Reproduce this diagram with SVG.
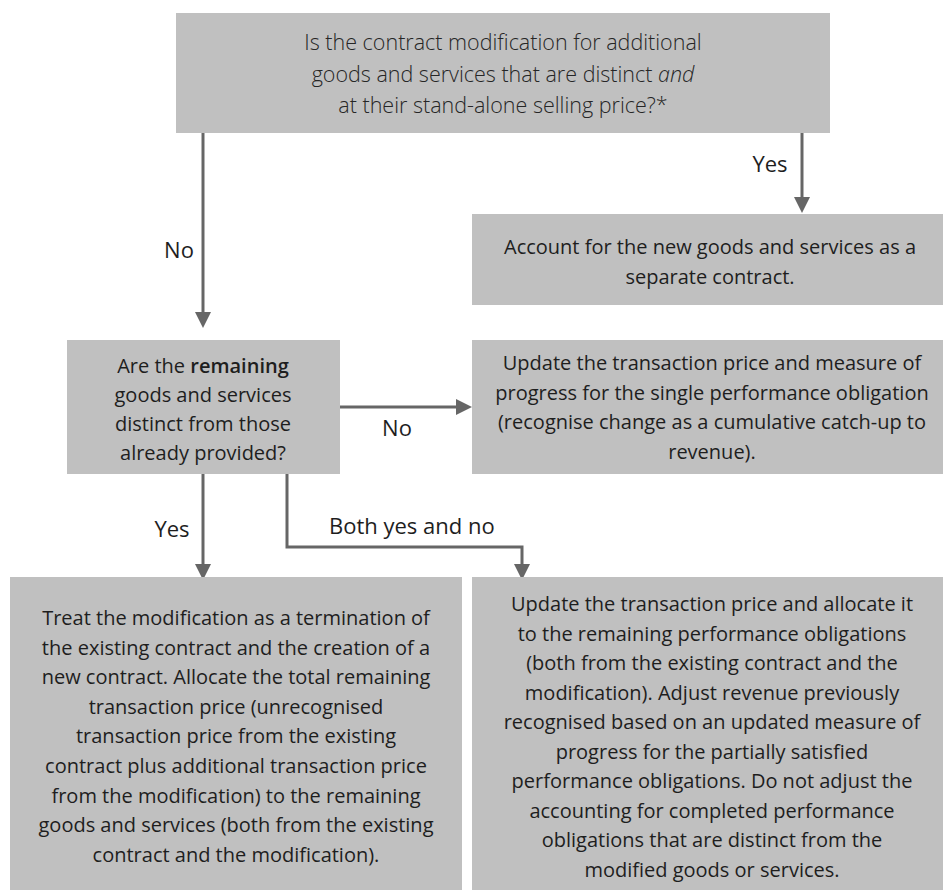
<svg xmlns="http://www.w3.org/2000/svg" width="943" height="890" viewBox="0 0 943 890">
<style>
.box{fill:#c0c0c0}
.t{font-family:"Open Sans","Noto Sans","Liberation Sans",sans-serif;font-size:20px;fill:#1e1e1e;text-anchor:middle}
.top{font-weight:300;font-size:21.5px;fill:#262626}
.lbl{font-family:"Open Sans","Noto Sans","Liberation Sans",sans-serif;font-size:22px;fill:#1e1e1e}
.conn{stroke:#666;stroke-width:3;fill:none}
</style>
<defs>
<marker id="arr" viewBox="0 0 16 16" refX="8" refY="8" markerWidth="16" markerHeight="16" markerUnits="userSpaceOnUse" orient="auto">
<path d="M0,0 L16,8 L0,16 z" fill="#666"/>
</marker>
</defs>
<rect width="943" height="890" fill="#fff"/>
<g id="connectors">
<path class="conn" d="M203,133 V320" marker-end="url(#arr)"/>
<path class="conn" d="M802,133 V205" marker-end="url(#arr)"/>
<path class="conn" d="M340,407 H464" marker-end="url(#arr)"/>
<path class="conn" d="M203,474 V572" marker-end="url(#arr)"/>
<path class="conn" d="M287,474 V547 H522 V572" marker-end="url(#arr)"/>
<text class="lbl" x="179" y="258" text-anchor="middle">No</text>
<text class="lbl" x="770" y="172" text-anchor="middle">Yes</text>
<text class="lbl" x="397" y="436" text-anchor="middle">No</text>
<text class="lbl" x="172" y="537" text-anchor="middle">Yes</text>
<text class="lbl" x="329" y="534">Both yes and no</text>
</g>
<g id="q1">
<rect class="box" x="176" y="13" width="654" height="120"/>
<text class="t top" x="503" y="50">Is the contract modification for additional</text>
<text class="t top" x="503" y="82">goods and services that are distinct <tspan font-style="italic">and</tspan></text>
<text class="t top" x="503" y="113">at their stand-alone selling price?*</text>
</g>
<g id="separate">
<rect class="box" x="472" y="214" width="471" height="91"/>
<text class="t" x="710" y="254">Account for the new goods and services as a</text>
<text class="t" x="710" y="284">separate contract.</text>
</g>
<g id="q2">
<rect class="box" x="67" y="340" width="273" height="134"/>
<text class="t" x="203" y="373">Are the <tspan font-weight="600">remaining</tspan></text>
<text class="t" x="203" y="402">goods and services</text>
<text class="t" x="203" y="431">distinct from those</text>
<text class="t" x="203" y="460">already provided?</text>
</g>
<g id="single">
<rect class="box" x="472" y="340" width="471" height="134"/>
<text class="t" x="712" y="370">Update the transaction price and measure of</text>
<text class="t" x="712" y="399.5">progress for the single performance obligation</text>
<text class="t" x="712" y="429">(recognise change as a cumulative catch-up to</text>
<text class="t" x="712" y="458.5">revenue).</text>
</g>
<g id="termination">
<rect class="box" x="10" y="577" width="452" height="313"/>
<text class="t" x="236" y="625">Treat the modification as a termination of</text>
<text class="t" x="236" y="654.6">the existing contract and the creation of a</text>
<text class="t" x="236" y="684.2">new contract. Allocate the total remaining</text>
<text class="t" x="236" y="713.8">transaction price (unrecognised</text>
<text class="t" x="236" y="743.4">transaction price from the existing</text>
<text class="t" x="236" y="773">contract plus additional transaction price</text>
<text class="t" x="236" y="802.6">from the modification) to the remaining</text>
<text class="t" x="236" y="832.2">goods and services (both from the existing</text>
<text class="t" x="236" y="861.8">contract and the modification).</text>
</g>
<g id="combined">
<rect class="box" x="472" y="577" width="471" height="313"/>
<text class="t" x="712" y="611">Update the transaction price and allocate it</text>
<text class="t" x="712" y="640.5">to the remaining performance obligations</text>
<text class="t" x="712" y="670">(both from the existing contract and the</text>
<text class="t" x="712" y="699.5">modification). Adjust revenue previously</text>
<text class="t" x="712" y="729">recognised based on an updated measure of</text>
<text class="t" x="712" y="758.5">progress for the partially satisfied</text>
<text class="t" x="712" y="788">performance obligations. Do not adjust the</text>
<text class="t" x="712" y="817.5">accounting for completed performance</text>
<text class="t" x="712" y="847">obligations that are distinct from the</text>
<text class="t" x="712" y="876.5">modified goods or services.</text>
</g>
</svg>
